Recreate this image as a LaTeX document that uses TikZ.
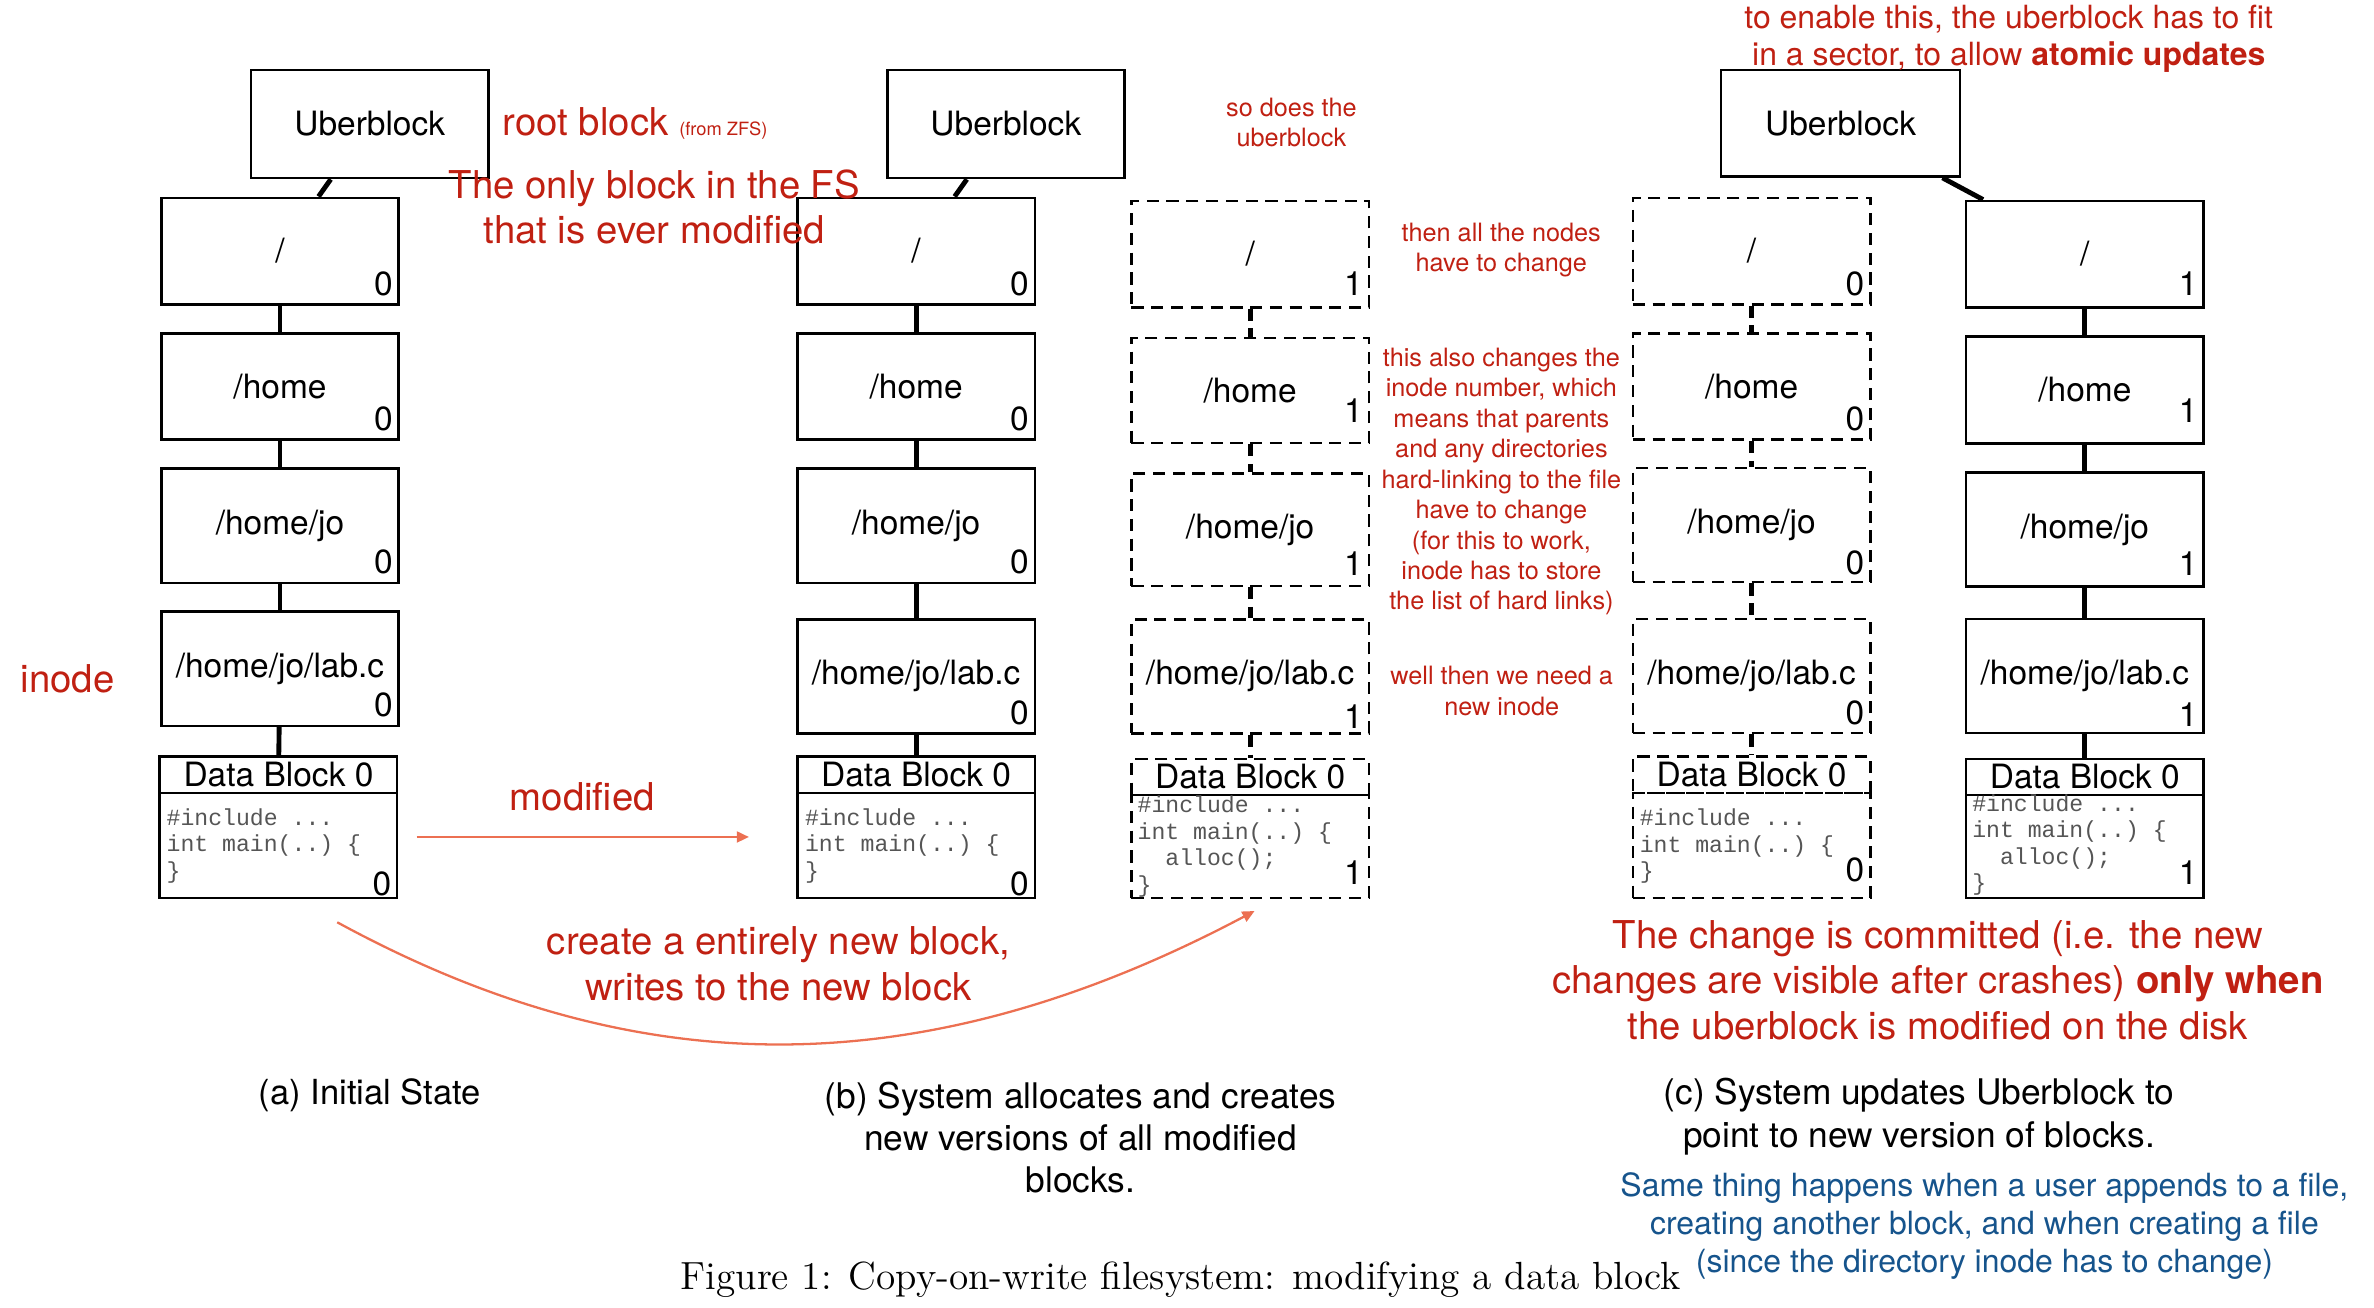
\documentclass[tikz,border=0pt]{standalone}
\usepackage{fontspec}
\setsansfont{TeX Gyre Heros}
\setmonofont{Liberation Mono}
\usepackage{tikz}
\usetikzlibrary{arrows.meta}
\usetikzlibrary{positioning}
\definecolor{notered}{RGB}{192,32,18}
\definecolor{arrowred}{RGB}{236,112,82}
\definecolor{noteblue}{RGB}{22,84,140}
\definecolor{codegray}{RGB}{85,85,85}
\tikzset{
  blk/.style={draw, line width=0.85pt, minimum width=78pt, inner sep=0pt, font=\sffamily\fontsize{11}{13}\selectfont},
  oldblk/.style={blk, dash pattern=on 4pt off 2.5pt},
  num/.style={inner sep=0pt, font=\sffamily\fontsize{11}{13}\selectfont},
  link/.style={line width=1.6pt},
  oldlink/.style={link, dash pattern=on 4pt off 2.5pt},
  code/.style={inner sep=0pt, align=left, text=codegray, font=\ttfamily\fontsize{7.6}{8.7}\selectfont},
  bignote/.style={inner sep=0pt, align=center, text=notered, font=\sffamily\fontsize{12.6}{15}\selectfont},
  smallnote/.style={inner sep=0pt, align=center, text=notered, font=\sffamily\fontsize{8.3}{10}\selectfont},
  topnote/.style={inner sep=0pt, align=center, text=notered, font=\sffamily\fontsize{10.5}{12.25}\selectfont},
  bluenote/.style={inner sep=0pt, align=center, text=noteblue, font=\sffamily\fontsize{10.5}{12.5}\selectfont},
  capt/.style={inner sep=0pt, align=center, font=\sffamily\fontsize{11.35}{13.9}\selectfont},
  modarrow/.style={draw=arrowred, line width=0.75pt, -{Triangle[length=4pt, width=3.6pt]}}
}

\begin{document}
\begin{tikzpicture}[x=0.5pt, y=-0.5pt]
    \useasboundingbox (0, 0) rectangle (1560, 859.5);
    % (a) initial state
    \node[blk, minimum height=35.5pt] (ubA) at (243, 81.5) {Uberblock};
    \node[blk, minimum height=35pt] (rootA) at (184, 165) {/};
    \node[blk, minimum height=35pt] (homeA) at (184, 254) {/home};
    \node[blk, minimum height=37.5pt] (joA) at (184, 345.5) {/home/jo};
    \node[blk, minimum height=37.5pt] (labA) at (184, 439.5) {/home/jo/lab.c};
    \node[blk, minimum height=12pt] (dbhA) at (183, 509) {Data Block 0};
    \node[blk, minimum height=34.5pt] (dbA) at (183, 555.5) {};
    \node[code, below right=5.35pt and 2.5pt of dbA.north west] (cA) {\#include ...\\int main(..) \{\\\}};
    \node[num, above left=3pt and 2.2pt of rootA.south east] (nrootA) {0};
    \node[num, above left=3pt and 2.2pt of homeA.south east] (nhomeA) {0};
    \node[num, above left=3pt and 2.2pt of joA.south east] (njoA) {0};
    \node[num, above left=3pt and 2.2pt of labA.south east] (nlabA) {0};
    \node[num, above left=0.85pt and 2.2pt of dbA.south east] (ndbA) {0};
    \draw[link] (ubA) -- (rootA);
    \draw[link] (rootA) -- (homeA);
    \draw[link] (homeA) -- (joA);
    \draw[link] (joA) -- (labA);
    \draw[link] (labA) -- (dbhA);
    % (b) new versions
    \node[blk, minimum height=35.5pt] (ubB) at (661, 81.5) {Uberblock};
    \node[blk, minimum height=35pt] (rootB) at (602, 165) {/};
    \node[blk, minimum height=35pt] (homeB) at (602, 254) {/home};
    \node[blk, minimum height=37.5pt] (joB) at (602, 345.5) {/home/jo};
    \node[blk, minimum height=37.5pt] (labB) at (602, 444.5) {/home/jo/lab.c};
    \node[blk, minimum height=12pt] (dbhB) at (602, 509) {Data Block 0};
    \node[blk, minimum height=34.5pt] (dbB) at (602, 555.5) {};
    \node[code, below right=5.35pt and 2.75pt of dbB.north west] (cB) {\#include ...\\int main(..) \{\\\}};
    \node[num, above left=3pt and 2.2pt of rootB.south east] (nrootB) {0};
    \node[num, above left=3pt and 2.2pt of homeB.south east] (nhomeB) {0};
    \node[num, above left=3pt and 2.2pt of joB.south east] (njoB) {0};
    \node[num, above left=3pt and 2.2pt of labB.south east] (nlabB) {0};
    \node[num, above left=0.85pt and 2.2pt of dbB.south east] (ndbB) {0};
    \draw[link] (ubB) -- (rootB);
    \draw[link] (rootB) -- (homeB);
    \draw[link] (homeB) -- (joB);
    \draw[link] (joB) -- (labB);
    \draw[link] (labB) -- (dbhB);
    \node[oldblk, minimum height=35pt] (rootC) at (821.5, 167) {/};
    \node[oldblk, minimum height=34.5pt] (homeC) at (821.5, 256.5) {/home};
    \node[oldblk, minimum height=37pt] (joC) at (821.5, 348) {/home/jo};
    \node[oldblk, minimum height=37.5pt] (labC) at (821.5, 444.5) {/home/jo/lab.c};
    \node[oldblk, minimum height=11.8pt] (dbhC) at (821.5, 510.6) {Data Block 0};
    \node[oldblk, minimum height=33.8pt] (dbC) at (821.5, 556.2) {};
    \node[code, below right=0.5pt and 2.25pt of dbC.north west] (cC) {\#include ...\\int main(..) \{\\\phantom{in}alloc();\\\}};
    \node[num, above left=4.2pt and 2.2pt of rootC.south east] (nrootC) {1};
    \node[num, above left=7pt and 2.2pt of homeC.south east] (nhomeC) {1};
    \node[num, above left=3.6pt and 2.2pt of joC.south east] (njoC) {1};
    \node[num, above left=1.9pt and 2.2pt of labC.south east] (nlabC) {1};
    \node[num, above left=4.5pt and 2.2pt of dbC.south east] (ndbC) {1};
    \draw[oldlink] (rootC) -- (homeC);
    \draw[oldlink] (homeC) -- (joC);
    \draw[oldlink] (joC) -- (labC);
    \draw[oldlink] (labC) -- (dbhC);
    % (c) uberblock points to the new tree
    \node[blk, minimum width=78.5pt, minimum height=35pt] (ubD) at (1209.5, 81) {Uberblock};
    \node[oldblk, minimum height=35pt] (rootD) at (1151, 165) {/};
    \node[oldblk, minimum height=35pt] (homeD) at (1151, 254) {/home};
    \node[oldblk, minimum height=37.5pt] (joD) at (1151, 345) {/home/jo};
    \node[oldblk, minimum height=37.5pt] (labD) at (1151, 444.3) {/home/jo/lab.c};
    \node[oldblk, minimum height=12pt] (dbhD) at (1151, 509) {Data Block 0};
    \node[oldblk, minimum height=34.5pt] (dbD) at (1151, 555.5) {};
    \node[code, below right=5.6pt and 2.5pt of dbD.north west] (cD) {\#include ...\\int main(..) \{\\\}};
    \node[num, above left=3pt and 2.2pt of rootD.south east] (nrootD) {0};
    \node[num, above left=3pt and 2.2pt of homeD.south east] (nhomeD) {0};
    \node[num, above left=2.6pt and 2.2pt of joD.south east] (njoD) {0};
    \node[num, above left=3pt and 2.2pt of labD.south east] (nlabD) {0};
    \node[num, above left=5.3pt and 2.2pt of dbD.south east] (ndbD) {0};
    \draw[oldlink] (rootD) -- (homeD);
    \draw[oldlink] (homeD) -- (joD);
    \draw[oldlink] (joD) -- (labD);
    \draw[oldlink] (labD) -- (dbhD);
    \node[blk, minimum height=35pt] (rootE) at (1370, 167) {/};
    \node[blk, minimum height=35pt] (homeE) at (1370, 256.3) {/home};
    \node[blk, minimum height=37.5pt] (joE) at (1370, 348) {/home/jo};
    \node[blk, minimum height=37.5pt] (labE) at (1370, 444.3) {/home/jo/lab.c};
    \node[blk, minimum height=11.8pt] (dbhE) at (1370, 510.6) {Data Block 0};
    \node[blk, minimum height=33.8pt] (dbE) at (1370, 556.2) {};
    \node[code, below right=0.15pt and 2.25pt of dbE.north west] (cE) {\#include ...\\int main(..) \{\\\phantom{in}alloc();\\\}};
    \node[num, above left=4pt and 2.2pt of rootE.south east] (nrootE) {1};
    \node[num, above left=7.2pt and 2.2pt of homeE.south east] (nhomeE) {1};
    \node[num, above left=3.8pt and 2.2pt of joE.south east] (njoE) {1};
    \node[num, above left=2.3pt and 2.2pt of labE.south east] (nlabE) {1};
    \node[num, above left=4.5pt and 2.2pt of dbE.south east] (ndbE) {1};
    \draw[link] (ubD) -- (rootE);
    \draw[link] (rootE) -- (homeE);
    \draw[link] (homeE) -- (joE);
    \draw[link] (joE) -- (labE);
    \draw[link] (labE) -- (dbhE);
    % notes
    \node[bignote, anchor=base west] (rootnote) at (330, 89) {root block {\fontsize{6}{7}\selectfont(from ZFS)}};
    \node[bignote] (onlynote) at (430, 136) {The only block in the FS\\that is ever modified};
    \node[bignote] (inodenote) at (44.5, 446) {inode};
    \node[bignote] (modnote) at (382.6, 523.3) {modified};
    \node[bignote] (newnote) at (511.5, 633.5) {create a entirely new block,\\writes to the new block};
    \node[smallnote] (ubnote) at (848.6, 80.5) {so does the\\uberblock};
    \node[smallnote] (allnote) at (986.5, 164.5) {then all the nodes\\have to change};
    \node[smallnote] (numnote) at (986.6, 316.5) {this also changes the\\inode number, which\\means that parents\\and any directories\\hard-linking to the file\\have to change\\(for this to work,\\inode has to store\\the list of hard links)};
    \node[smallnote] (wellnote) at (986.8, 454.2) {well then we need a\\new inode};
    \node[topnote] (atomnote) at (1320, 25.4) {to enable this, the uberblock has to fit\\in a sector, to allow \textbf{atomic updates}};
    \node[bignote] (commitnote) at (1273.5, 644) {The change is committed (i.e. the new\\changes are visible after crashes) \textbf{only when}\\the uberblock is modified on the disk};
    \node[bluenote] (samenote) at (1304, 805.5) {Same thing happens when a user appends to a file,\\creating another block, and when creating a file\\(since the directory inode has to change)};
    \draw[modarrow, shorten <=6pt, shorten >=15.5pt] ([yshift=2.75pt]dbA.east) -- ([yshift=2.75pt]dbB.west);
    \draw[modarrow] ([xshift=19.3pt, yshift=-7.6pt]dbA.south) .. controls (411.6, 709.5) and (599, 718) .. ([xshift=1.45pt, yshift=-3.9pt]dbC.south);
    % captions
    \node[capt] (captA) at (243, 719.6) {(a) Initial State};
    \node[capt, font=\sffamily\fontsize{11.6}{13.9}\selectfont] (captB) at (710, 747.5) {(b) System allocates and creates\\new versions of all modified\\blocks.};
    \node[capt, font=\sffamily\fontsize{11.6}{14.1}\selectfont] (captC) at (1261, 734) {(c) System updates Uberblock to\\point to new version of blocks.};
    \node[inner sep=0pt, font=\rmfamily\fontsize{12.9}{15}\selectfont] (figcap) at (776, 841) {Figure 1: Copy-on-write filesystem: modifying a data block};
  \end{tikzpicture}
\end{document}
